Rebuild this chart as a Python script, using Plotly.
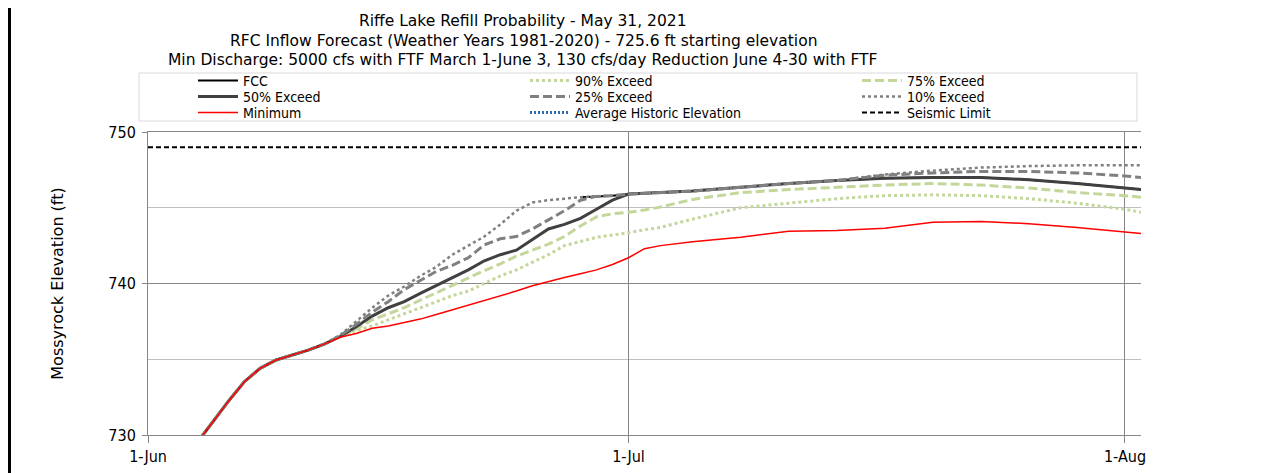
import plotly.graph_objects as go

# ---------------- data ----------------
dates = [
    "2021-06-01", "2021-06-02", "2021-06-03", "2021-06-04", "2021-06-05", "2021-06-06",
    "2021-06-07", "2021-06-08", "2021-06-09", "2021-06-10", "2021-06-11", "2021-06-12",
    "2021-06-13", "2021-06-14", "2021-06-15", "2021-06-16", "2021-06-17", "2021-06-18",
    "2021-06-19", "2021-06-20", "2021-06-21", "2021-06-22", "2021-06-23", "2021-06-24",
    "2021-06-25", "2021-06-26", "2021-06-27", "2021-06-28", "2021-06-29", "2021-06-30",
    "2021-07-01", "2021-07-02", "2021-07-03", "2021-07-05", "2021-07-08", "2021-07-11",
    "2021-07-14", "2021-07-17", "2021-07-20", "2021-07-23", "2021-07-26", "2021-07-29",
    "2021-08-01", "2021-08-02",
]

fcc = [None] * 27 + [745.7, 745.75, 745.8,
       745.9, 745.95, 746.0, 746.1, 746.35, 746.6, 746.8, 746.95, 747.0, 747.0,
       746.85, 746.6, 746.3, 746.2]

exceed_90 = [726.0, 726.7, 728.0, 729.4, 730.8, 732.2, 733.5, 734.4, 734.95, 735.25,
             735.6, 736.0, 736.5, 736.9, 737.2, 737.6, 738.0, 738.4, 738.8, 739.2,
             739.5, 740.0, 740.5, 740.9, 741.4, 741.9, 742.5, 742.8, 743.05, 743.2,
             743.35, 743.55, 743.7, 744.25, 745.0, 745.3, 745.6, 745.8, 745.85, 745.8,
             745.6, 745.3, 744.9, 744.7]

exceed_75 = [726.0, 726.7, 728.0, 729.4, 730.8, 732.2, 733.5, 734.4, 734.95, 735.25,
             735.6, 736.0, 736.5, 737.0, 737.6, 738.0, 738.4, 738.9, 739.4, 739.9,
             740.4, 740.85, 741.3, 741.8, 742.2, 742.6, 743.1, 743.8, 744.4, 744.6,
             744.7, 744.85, 745.05, 745.55, 746.0, 746.2, 746.35, 746.5, 746.6, 746.5,
             746.3, 746.0, 745.8, 745.7]

exceed_50 = [726.0, 726.7, 728.0, 729.4, 730.8, 732.2, 733.5, 734.4, 734.95, 735.25,
             735.6, 736.0, 736.5, 737.15, 737.85, 738.4, 738.8, 739.35, 739.85, 740.35,
             740.9, 741.5, 741.9, 742.2, 742.9, 743.6, 743.9, 744.3, 744.9, 745.5,
             745.9, 745.95, 746.0, 746.1, 746.35, 746.6, 746.8, 746.95, 747.0, 747.0,
             746.85, 746.6, 746.3, 746.2]

exceed_25 = [726.0, 726.7, 728.0, 729.4, 730.8, 732.2, 733.5, 734.4, 734.95, 735.25,
             735.6, 736.0, 736.55, 737.3, 738.1, 738.8, 739.6, 740.2, 740.8, 741.2,
             741.7, 742.55, 742.95, 743.1, 743.6, 744.2, 744.8, 745.5, 745.75, 745.8,
             745.9, 745.95, 746.0, 746.1, 746.35, 746.6, 746.8, 747.15, 747.3, 747.4,
             747.4, 747.3, 747.1, 747.0]

exceed_10 = [726.0, 726.7, 728.0, 729.4, 730.8, 732.2, 733.5, 734.4, 734.95, 735.25,
             735.6, 736.0, 736.6, 737.5, 738.4, 739.2, 739.8, 740.5, 741.1, 741.9,
             742.5, 743.1, 743.9, 744.8, 745.35, 745.5, 745.6, 745.7, 745.75, 745.8,
             745.9, 745.95, 746.0, 746.1, 746.35, 746.6, 746.8, 747.2, 747.45, 747.65,
             747.75, 747.8, 747.8, 747.8]

minimum = [726.0, 726.7, 728.0, 729.4, 730.8, 732.2, 733.5, 734.4, 734.95, 735.25,
           735.6, 736.0, 736.45, 736.7, 737.05, 737.2, 737.4, 737.65, 737.95, 738.25,
           738.6, 738.9, 739.2, 739.5, 739.85, 740.15, 740.4, 740.65, 740.9, 741.25,
           741.7, 742.3, 742.5, 742.75, 743.05, 743.45, 743.5, 743.65, 744.05, 744.1,
           743.95, 743.7, 743.4, 743.3]

# no average-historic values are visible inside the plotted range
avg_hist_dates = ["2021-06-01", "2021-08-02"]
avg_hist = [None, None]

seismic_dates = ["2021-06-01", "2021-08-02"]
seismic = [749.0, 749.0]

x_ticks = ["2021-06-01", "2021-07-01", "2021-08-01"]
x_ticktext = ["1-Jun", "1-Jul", "1-Aug"]
y_ticks = [730, 740, 750]
y_minor = [735, 745]

title_lines = [
    "Riffe Lake Refill Probability - May 31, 2021",
    "RFC Inflow Forecast (Weather Years 1981-2020) - 725.6 ft starting elevation",
    "Min Discharge: 5000 cfs with FTF March 1-June 3, 130 cfs/day Reduction June 4-30 with FTF",
]

# ---------------- geometry (screen px; page has an 8px body offset) ----------------
OFF = 8
W, H = 1275 - OFF, 473 - OFF
PLOT_L, PLOT_R, PLOT_T, PLOT_B = 148, 1141, 132, 435   # screen coordinates
L = PLOT_L - OFF
R = W - (PLOT_R - OFF)
T = PLOT_T - OFF
B = H - (PLOT_B - OFF)
PW, PH = W - L - R, H - T - B


def sx(p):
    return (p - PLOT_L) / PW


def sy(p):
    return (PLOT_B - p) / PH


FONT = "DejaVu Sans Condensed, DejaVu Sans, sans-serif"
FONT_R = "DejaVu Sans, sans-serif"

fig = go.Figure()

series = [
    ("FCC", dates, fcc, dict(color="#000000", width=2), "legend"),
    ("90% Exceed", dates, exceed_90, dict(color="#c4d79b", width=3, dash="3px,3px"), "legend"),
    ("75% Exceed", dates, exceed_75, dict(color="#c4d79b", width=3, dash="9px,4px"), "legend"),
    ("50% Exceed", dates, exceed_50, dict(color="#404040", width=3), "legend2"),
    ("25% Exceed", dates, exceed_25, dict(color="#808080", width=3, dash="9px,4px"), "legend2"),
    ("10% Exceed", dates, exceed_10, dict(color="#808080", width=2.5, dash="3px,3px"), "legend2"),
    ("Minimum", dates, minimum, dict(color="#ff0000", width=1.5), "legend3"),
    ("Average Historic Elevation", avg_hist_dates, avg_hist,
     dict(color="#2e6bb0", width=3, dash="2px,2px"), "legend3"),
    ("Seismic Limit", seismic_dates, seismic,
     dict(color="#000000", width=2, dash="5px,3px"), "legend3"),
]

for name, xs, ys, line, lg in series:
    fig.add_trace(go.Scatter(x=xs, y=ys, name=name, mode="lines", line=line,
                             connectgaps=False, legend=lg, hoverinfo="x+y+name"))

annotations = []
for txt, ypx in zip(title_lines, [21, 41, 60]):
    annotations.append(dict(text=txt, xref="paper", yref="paper", x=sx(523), y=sy(ypx),
                            xanchor="center", yanchor="middle", showarrow=False,
                            font=dict(family=FONT_R, size=15.5, color="#000000")))

shapes = [
    # legend frame
    dict(type="rect", xref="paper", yref="paper", x0=sx(139), x1=sx(1137),
         y0=sy(121), y1=sy(73), line=dict(color="#d9d9d9", width=1), layer="above"),
    # left black border
    dict(type="rect", xref="paper", yref="paper", x0=sx(8), x1=sx(11),
         y0=sy(473), y1=sy(0), line=dict(width=0), fillcolor="#000000", layer="above"),
]


def row_legend(ypx):
    return dict(orientation="h", x=sx(193), xanchor="left", y=sy(ypx), yanchor="middle",
                font=dict(family=FONT, size=14, color="#000000"),
                itemwidth=40, entrywidth=277, entrywidthmode="pixels",
                bgcolor="rgba(0,0,0,0)", borderwidth=0, traceorder="normal",
                itemclick=False, itemdoubleclick=False)


fig.update_layout(
    width=W, height=H,
    margin=dict(l=L, r=R, t=T, b=B, autoexpand=False),
    paper_bgcolor="white", plot_bgcolor="white",
    font=dict(family=FONT, size=14, color="#000000"),
    showlegend=True,
    legend=row_legend(81),
    legend2=row_legend(97),
    legend3=row_legend(113),
    annotations=annotations,
    shapes=shapes,
    xaxis=dict(type="date", range=["2021-06-01", "2021-08-02"],
               tickmode="array", tickvals=x_ticks, ticktext=x_ticktext,
               showgrid=True, gridcolor="#868686", gridwidth=1,
               ticks="outside", ticklen=7, tickcolor="#868686", tickwidth=1,
               showline=True, linecolor="#868686", linewidth=1, mirror=True,
               zeroline=False, tickfont=dict(family=FONT, size=16, color="#000000")),
    yaxis=dict(range=[730, 750], tickmode="array", tickvals=y_ticks,
               showgrid=True, gridcolor="#868686", gridwidth=1,
               minor=dict(tickvals=y_minor, showgrid=True, gridcolor="#bfbfbf", ticks=""),
               ticks="outside", ticklen=5, tickcolor="#868686", tickwidth=1,
               ticklabelstandoff=3,
               showline=True, linecolor="#868686", linewidth=1, zeroline=False,
               tickfont=dict(family=FONT, size=16, color="#000000"),
               title=dict(text="Mossyrock Elevation (ft)", standoff=40,
                          font=dict(family=FONT_R, size=16, color="#000000"))),
)

fig.write_html("out.html")
